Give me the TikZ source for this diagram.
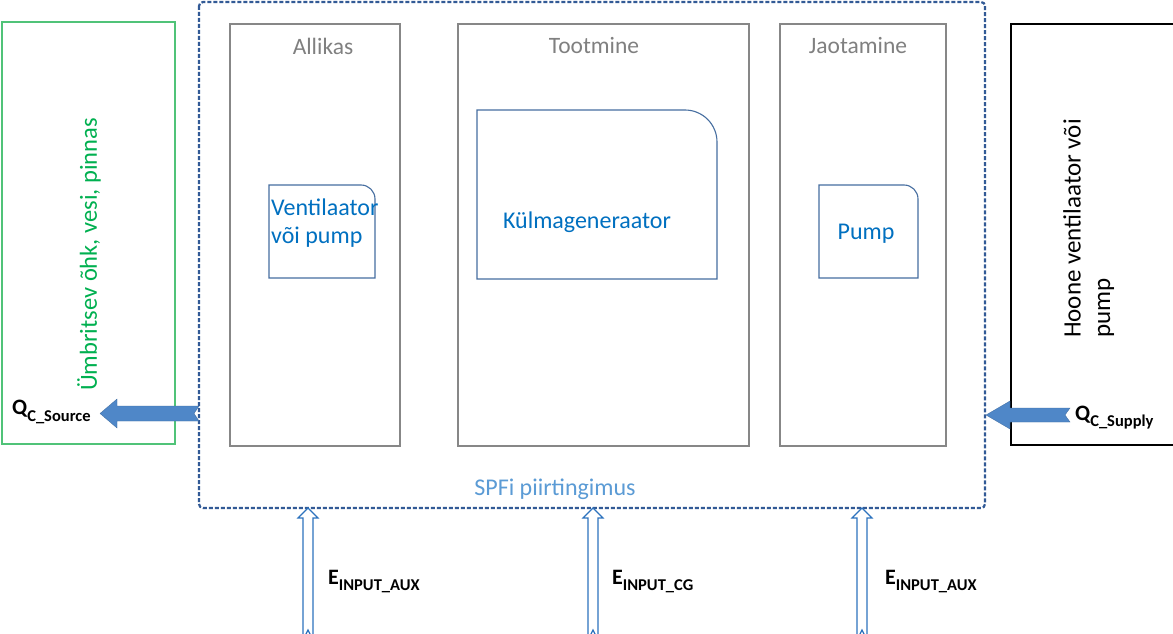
\documentclass[tikz,border=0pt]{standalone}
\usepackage{fontspec}
\setmainfont{Carlito}
\usetikzlibrary{calc}
\definecolor{grn}{RGB}{0,176,80}
\definecolor{grnbox}{RGB}{80,195,120}
\definecolor{grybox}{RGB}{135,135,135}
\definecolor{grytxt}{RGB}{128,128,128}
\definecolor{inbox}{RGB}{70,110,160}
\definecolor{intxt}{RGB}{0,112,192}
\definecolor{bnd}{RGB}{50,90,150}
\definecolor{spf}{RGB}{91,155,213}
\definecolor{arr}{RGB}{79,135,200}
\definecolor{harr}{RGB}{45,115,190}
\newcommand{\lowsub}[2]{\raisebox{-#1}{\fontsize{16.5}{19}\selectfont #2}}
\tikzset{
  graybox/.style={draw=grybox, line width=1.1pt},
  title/.style={text=grytxt, font=\fontsize{23.5}{27}\selectfont, inner sep=0pt},
  inner/.style={draw=inbox, line width=1.1pt},
  intext/.style={text=intxt, font=\fontsize{24}{29}\selectfont, inner sep=0pt},
  qlabel/.style={font=\bfseries\fontsize{22}{24}\selectfont, inner sep=0pt, anchor=base west},
  blockarr/.style={fill=arr, draw=arr!80!black, line width=0.3pt},
  hollowarr/.style={draw=harr, line width=1.2pt, fill=white},
}
\begin{document}
\begin{tikzpicture}[x=1pt,y=-1pt]
\useasboundingbox (0,0) rectangle (1173,634);
\fill[white] (0,0) rectangle (1173,634);

% green environment box
\draw[draw=grnbox, line width=1.2pt] (2,22) rectangle (175,444);
\node[rotate=90, text=grn, font=\fontsize{24.5}{28}\selectfont, anchor=west, inner sep=0pt] (env) at (89,391) {Ümbritsev õhk, vesi, pinnas};

% building box
\draw[draw=black, line width=1.2pt] (1011,24) rectangle (1180,445);
\node[rotate=90, font=\fontsize{25}{29}\selectfont, anchor=west, inner sep=0pt] (hoone1) at (1072,338) {Hoone ventilaator või};
\node[rotate=90, font=\fontsize{25}{29}\selectfont, anchor=west, inner sep=0pt] (hoone2) at (1106,338) {pump};

% boundary
\draw[draw=bnd, line width=2.2pt, dash pattern=on 4pt off 2pt, rounded corners=4pt] (199,2) rectangle (985,508);
\node[text=spf, font=\fontsize{24}{28}\selectfont, inner sep=0pt] (spfi) at (555,489) {SPFi piirtingimus};

% gray boxes
\draw[graybox] (230,24) rectangle (400,446);
\draw[graybox] (458,24) rectangle (749,446);
\draw[graybox] (780,24) rectangle (946,446);
\node[title] (allikas) at (323,46) {Allikas};
\node[title] (tootmine) at (594,46) {Tootmine};
\node[title] (jaotamine) at (858,46) {Jaotamine};

% inner boxes with one rounded corner
\newcommand{\oneround}[5]{% x1,y1,x2,y2,r
  \draw[inner] (#1,#4) -- (#1,#2) -- ({#3-#5},#2)
    .. controls ({#3-#5+0.552*#5},#2) and (#3,{#2+#5-0.552*#5}) .. (#3,{#2+#5})
    -- (#3,#4) -- cycle;}
\oneround{269}{185}{375}{278}{14}
\oneround{477}{110}{717}{279}{32}
\oneround{819}{185}{918}{278}{14}
\node[intext, align=left, anchor=north west] (vent) at (271,199) {Ventilaator\\[-1pt]või pump};
\node[intext] (kg) at (587,222) {Külmageneraator};
\node[intext] (pump) at (866,234) {Pump};

% block arrows
\fill[blockarr] (199,406) -- (117,406) -- (117,399) -- (100,413.5) -- (117,428) -- (117,421) -- (199,421) -- (194,413.5) -- cycle;
\fill[blockarr] (1070,408) -- (1010,408) -- (1010,401) -- (986,415) -- (1010,429) -- (1010,422) -- (1070,422) -- (1065,415) -- cycle;

\node[qlabel] (qsrc) at (12,414) {Q\lowsub{7pt}{C\_Source}};
\node[qlabel] (qsup) at (1075,420) {Q\lowsub{6pt}{C\_Supply}};

% hollow vertical arrows
\begin{scope}
\clip (0,0) rectangle (1173,634);
\foreach \xx in {308,593,862}{
  \draw[hollowarr] ({\xx-5},640) -- ({\xx-5},518) -- ({\xx-10},518) -- (\xx,508) -- ({\xx+10},518) -- ({\xx+5},518) -- ({\xx+5},640) -- (\xx,630) -- cycle;
}
\end{scope}
\node[qlabel] (e1) at (328,584) {E\lowsub{6pt}{INPUT\_AUX}};
\node[qlabel] (e2) at (612,584) {E\lowsub{6pt}{INPUT\_CG}};
\node[qlabel] (e3) at (885,584) {E\lowsub{6pt}{INPUT\_AUX}};
\end{tikzpicture}
\end{document}
